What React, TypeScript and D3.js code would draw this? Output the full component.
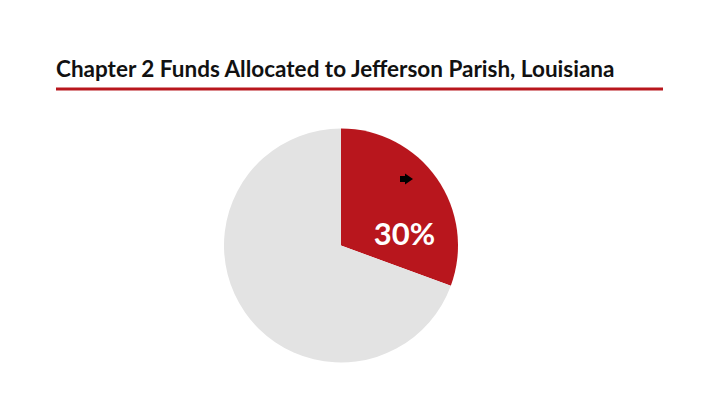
import React from "react";
import * as d3 from "d3";

const categories = ["Jefferson Parish", "Other"];
const values = [30.6, 69.4];
const labels = ["30%", ""];
const colors = ["#b8161d", "#e3e3e3"];
const title = "Chapter 2 Funds Allocated to Jefferson Parish, Louisiana";

export default function App() {
  const W = 720, H = 404;
  const cx = 341, cy = 245.5, r = 117;
  const pie = d3.pie<number>().sort(null).value((d) => d)(values);
  const arc = d3.arc<d3.PieArcDatum<number>>().innerRadius(0).outerRadius(r);
  return (
    <svg width={W} height={H} style={{ position: "absolute", left: 0, top: 0, background: "#fff" }}>
      <text x={56} y={77} fontFamily="Lato" fontWeight={700} fontSize={22.5} fill="#111">{title}</text>
      <line x1={56} x2={663} y1={89} y2={89} stroke="#b8161d" strokeWidth={3} />
      <g transform={`translate(${cx},${cy})`}>
        {pie.map((p, i) => (
          <path key={categories[i]} d={arc(p) || ""} fill={colors[i]} />
        ))}
      </g>
      <text x={404.5} y={245} textAnchor="middle" fontFamily="Lato" fontWeight={700} fontSize={31} fill="#fff">
        {labels[0]}
      </text>
      <path d="M400,176 L405,176 L405,173.5 L413,179 L405,184.5 L405,182 L400,182 Z" fill="#000" />
    </svg>
  );
}
